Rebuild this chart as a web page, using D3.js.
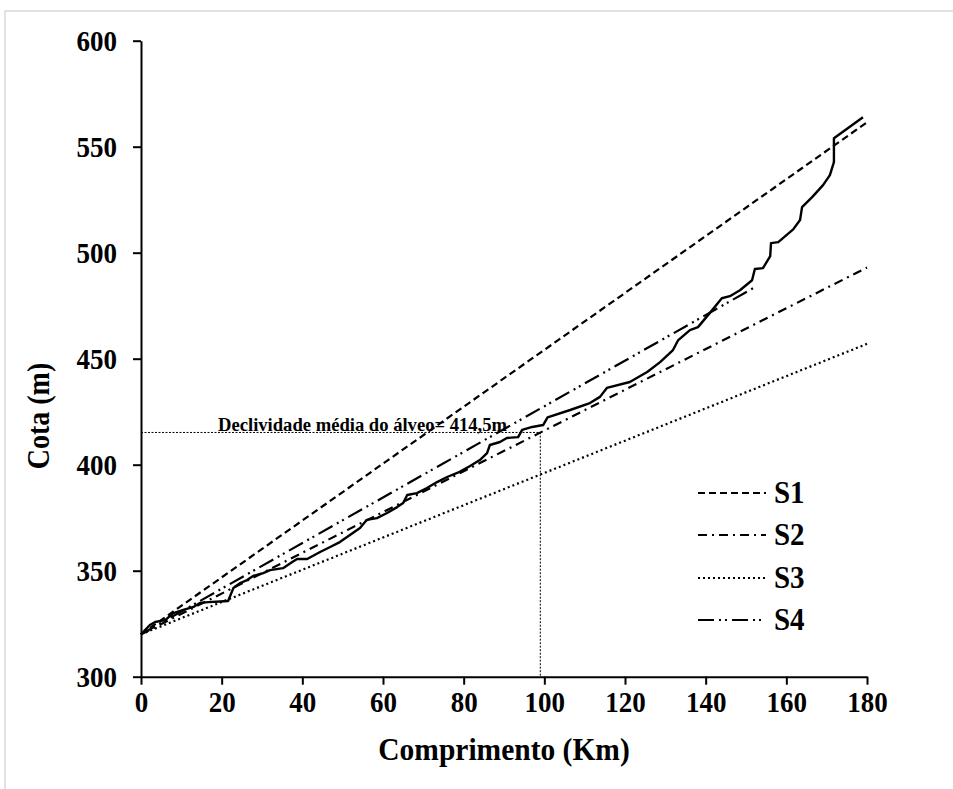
<!DOCTYPE html>
<html>
<head>
<meta charset="utf-8">
<script src="https://cdn.jsdelivr.net/npm/d3@7"></script>
<style>
  html, body { margin: 0; padding: 0; background: #fff; }
  svg { display: block; }
  text { font-family: "Liberation Serif", "Times New Roman", serif; font-weight: bold; fill: #000; }
</style>
</head>
<body>
<svg id="chart" width="953" height="789"></svg>
<script>
// ---- Data ----
const xTicks = [0, 20, 40, 60, 80, 100, 120, 140, 160, 180];
const yTicks = [300, 350, 400, 450, 500, 550, 600];

// Longitudinal profile (solid line)
const profileKm = [0, 2.2, 3.5, 6, 8, 10.5, 13, 14.6, 16.7, 19.6, 21.6, 22.9, 24.6, 26.3, 27.8, 30.3, 32, 35.2, 37.4, 38.7, 41.2, 44.4, 46.9, 49.3, 51.8, 54.3, 56, 58.5, 61, 63.5, 65, 66, 68.4, 70.9, 73.4, 75.9, 79, 81.6, 84, 85.8, 86.5, 89, 90.7, 93.5, 94.5, 97, 99.7, 100.8, 106.4, 111.3, 113.8, 115.5, 121.2, 125.5, 128.7, 131.9, 133.2, 136.1, 138.1, 141, 144, 146, 148.5, 151.5, 152.2, 154.2, 156, 156.2, 158, 161.7, 163.4, 163.9, 166.4, 169.1, 170.8, 171.8, 171.8, 179];
const profileCota = [320, 324.4, 325.8, 326.7, 330, 331.5, 332.9, 334.8, 335.2, 335.5, 335.7, 341.8, 344.2, 345.6, 347.5, 348.9, 350.3, 351.2, 354, 355.5, 355.5, 358.8, 361.2, 363.5, 366.8, 370.1, 374, 374.8, 377.2, 380, 381.9, 385.7, 386.6, 389, 391.8, 394.2, 396.6, 399.4, 402.2, 405.5, 409.3, 410.7, 412.6, 413, 416.4, 417.8, 418.7, 422.3, 425.8, 429.1, 432, 436.2, 439, 443.7, 448.4, 454.1, 458.8, 463.5, 464.9, 471.5, 478.5, 479.5, 482.3, 487, 492.3, 492.7, 498.4, 504.5, 505, 511, 515.4, 521.5, 526.2, 531.9, 536.6, 542.7, 554, 563.9];

// Slope lines S1..S4 (start and end points)
const seriesNames = ["S1", "S2", "S3", "S4"];
const seriesKm   = [[0, 180], [0, 180], [0, 180], [0, 152]];
const seriesCota = [[320, 561.5], [320, 493], [320, 457], [320, 483.5]];
const seriesDash = ["7,4", "9,5,2,5", "2,3", "16,5,2,4,2,5"];

// Mean slope annotation
const meanKm = 99;
const meanCota = 414.5;
const meanLabel = "Declividade média do álveo= 414,5m";

// ---- Chart ----
const SY = 1.1; // vertical stretch of the glyphs
const svg = d3.select("#chart");
svg.append("rect").attr("width", 953).attr("height", 789).attr("fill", "#fff");
// faint outer frame (top and left edges)
svg.append("path").attr("d", "M5,789 V11 H953").attr("fill", "none").attr("stroke", "#d9d9d9").attr("stroke-width", 1.5);

const x = d3.scaleLinear().domain([0, 180]).range([141, 867]);
const y = d3.scaleLinear().domain([300, 600]).range([676.7, 40.7]);

function stretchedText(px, py, str, size, anchor, rot) {
  const g = svg.append("g").attr("transform", `translate(${px},${py})${rot ? " rotate(" + rot + ")" : ""} scale(1,${SY})`);
  return g.append("text").attr("text-anchor", anchor || "start").attr("font-size", size).text(str);
}

// annotation lines
svg.append("path")
  .attr("d", `M${x(0)},${y(meanCota) - 1.5} H${x(meanKm)} V${y(300)}`)
  .attr("fill", "none").attr("stroke", "#000").attr("stroke-width", 1)
  .attr("stroke-dasharray", "2,1.5");

// slope lines
const line = d3.line().x(d => x(d[0])).y(d => y(d[1]));
seriesNames.forEach((n, i) => {
  const pts = seriesKm[i].map((k, j) => [k, seriesCota[i][j]]);
  svg.append("path").datum(pts).attr("d", line)
    .attr("fill", "none").attr("stroke", "#000").attr("stroke-width", 2.2)
    .attr("stroke-dasharray", seriesDash[i]);
});

// profile
const prof = profileKm.map((k, i) => [k, profileCota[i]]);
svg.append("path").datum(prof).attr("d", line)
  .attr("fill", "none").attr("stroke", "#000").attr("stroke-width", 2.4)
  .attr("stroke-linejoin", "round");

// annotation text
stretchedText(x(19.1), y(meanCota) - 2.5, meanLabel, 17.5)
  .attr("textLength", 289).attr("lengthAdjust", "spacingAndGlyphs");

// axes
const xAxis = svg.append("g").attr("transform", `translate(0,${y(300)})`)
  .call(d3.axisBottom(x).tickValues(xTicks).tickSize(8).tickSizeOuter(0));
const yAxis = svg.append("g").attr("transform", `translate(${x(0)},0)`)
  .call(d3.axisLeft(y).tickValues(yTicks).tickSize(8).tickSizeOuter(0).tickPadding(16));
[xAxis, yAxis].forEach(g => {
  g.select(".domain").attr("stroke", "#000").attr("stroke-width", 2);
  g.selectAll(".tick line").attr("stroke", "#000").attr("stroke-width", 2);
  g.selectAll(".tick text").attr("font-size", 27).attr("font-family", "Liberation Serif, Times New Roman, serif")
    .attr("font-weight", "bold").attr("fill", "#000").attr("dy", null);
});
xAxis.selectAll(".tick text").attr("y", 35.5 / SY).attr("transform", `scale(1,${SY})`);
yAxis.selectAll(".tick text").attr("y", 9.5 / SY).attr("transform", `scale(1,${SY})`);

// axis titles
stretchedText(x(90), 760, "Comprimento (Km)", 29.5, "middle");
stretchedText(49, 416, "Cota (m)", 28, "middle", -90);

// legend
const legY = [493, 535, 578, 620];
seriesNames.forEach((n, i) => {
  svg.append("line").attr("x1", 698).attr("x2", 766).attr("y1", legY[i]).attr("y2", legY[i])
    .attr("stroke", "#000").attr("stroke-width", 2.2).attr("stroke-dasharray", seriesDash[i]);
  stretchedText(774, legY[i] + 10, n, 29);
});
</script>
</body>
</html>
